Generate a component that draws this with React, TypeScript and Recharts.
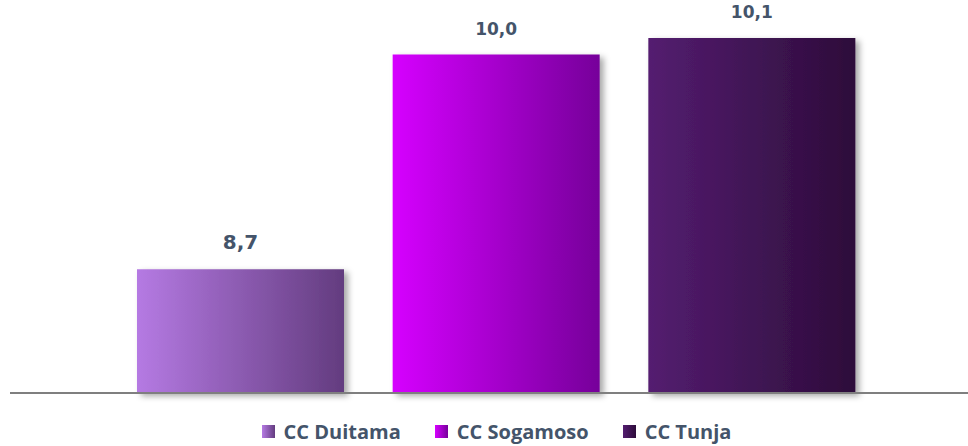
import { BarChart, Bar, XAxis, YAxis, Cell, LabelList } from 'recharts'

const CATEGORIES = ['CC Duitama', 'CC Sogamoso', 'CC Tunja']
const VALUES = [8.7, 10.0, 10.1]

// gradients left -> right for each bar
const GRADIENTS = [
  ['#b57ae3', '#633c7f'],
  ['#d600ff', '#76009a'],
  ['#541d70', '#2d0c3a'],
]

const TEXT = '#44546a'

const data = CATEGORIES.map((name, i) => ({ name, value: VALUES[i] }))

function fmt(v: number) {
  return v.toFixed(1).replace('.', ',')
}

function ValueLabel(props: any) {
  const { x, y, width, value, index } = props
  const size = index === 0 ? 20 : 17
  return (
    <text
      x={x + width / 2}
      y={y - 20}
      textAnchor="middle"
      fontFamily="DejaVu Sans"
      fontWeight="bold"
      fontSize={size}
      fill={TEXT}
    >
      {fmt(value)}
    </text>
  )
}

export default function App() {
  return (
    <div style={{ position: 'absolute', left: 0, top: 0, width: 968, height: 446, background: '#fff' }}>
      <BarChart width={968} height={446} data={data} margin={{ top: 5, right: 0, bottom: 51, left: 10 }}>
        <defs>
          {GRADIENTS.map(([a, b], i) => (
            <linearGradient key={i} id={`grad${i}`} x1="0" y1="0" x2="1" y2="0">
              <stop offset="0%" stopColor={a} />
              <stop offset="100%" stopColor={b} />
            </linearGradient>
          ))}
          <filter id="shadow" x="-10%" y="-10%" width="130%" height="130%">
            <feDropShadow dx="4" dy="3" stdDeviation="3" floodColor="#000" floodOpacity="0.35" />
          </filter>
        </defs>
        <XAxis
          dataKey="name"
          tick={false}
          tickLine={false}
          height={2}
          axisLine={{ stroke: '#7f7f7f', strokeWidth: 2 }}
          padding={{ left: 103, right: 88 }}
        />
        <YAxis hide domain={[7.95, 10.3]} />
        <Bar dataKey="value" barSize={207} isAnimationActive={false}>
          {data.map((d, i) => (
            <Cell key={d.name} fill={`url(#grad${i})`} filter="url(#shadow)" />
          ))}
          <LabelList dataKey="value" content={<ValueLabel />} />
        </Bar>
      </BarChart>
      <div
        style={{
          position: 'absolute',
          top: 418,
          left: 0,
          width: 968,
          display: 'flex',
          justifyContent: 'center',
          gap: 34,
          fontFamily: 'Open Sans',
          fontWeight: 700,
          fontSize: 20,
          color: TEXT,
          paddingLeft: 25,
          boxSizing: 'border-box',
        }}
      >
        {CATEGORIES.map((c, i) => (
          <div key={c} style={{ display: 'flex', alignItems: 'center', gap: 9 }}>
            <span
              style={{
                display: 'inline-block',
                width: 13,
                height: 13,
                background: `linear-gradient(to right, ${GRADIENTS[i][0]}, ${GRADIENTS[i][1]})`,
              }}
            />
            <span>{c}</span>
          </div>
        ))}
      </div>
    </div>
  )
}
